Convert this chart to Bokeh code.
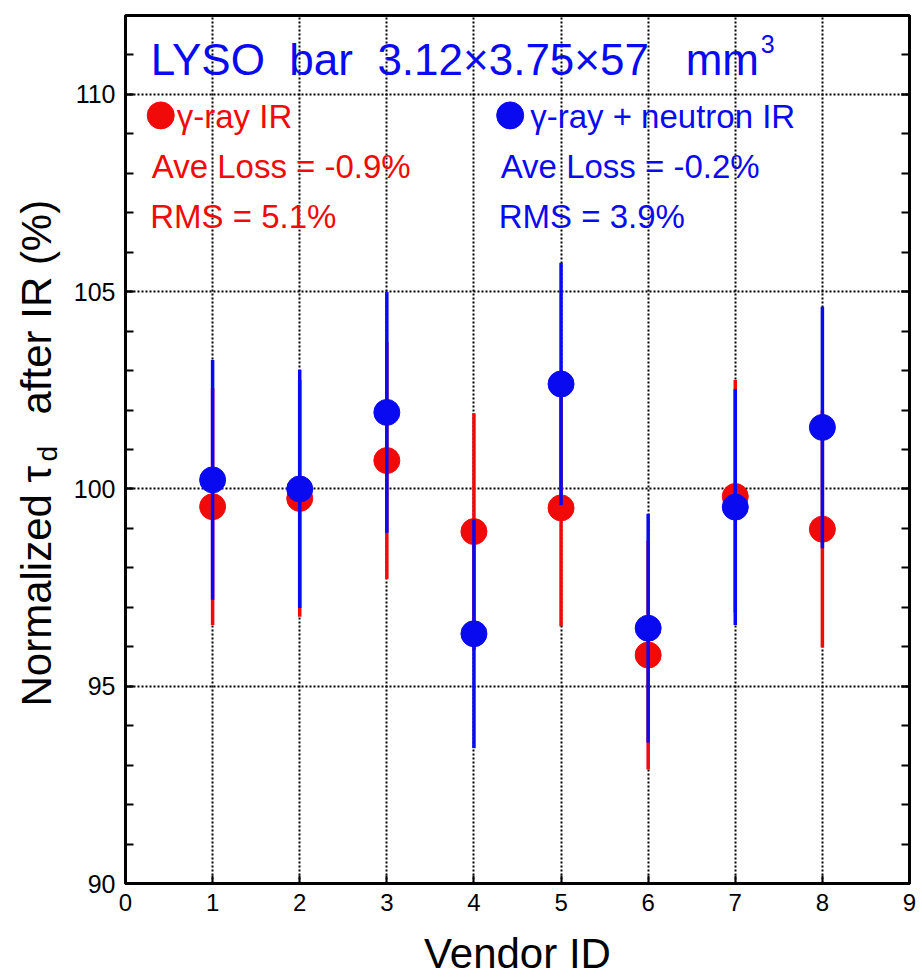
import numpy as np
from bokeh.plotting import figure
from bokeh.layouts import row
from bokeh.models import Range1d, FixedTicker, Label, LinearAxis
from bokeh.core.properties import value
from bokeh.embed import file_html
from bokeh.resources import INLINE

# ---------------- data ----------------
vendor_id = [1, 2, 3, 4, 5, 6, 7, 8]
gamma_val = [99.55, 99.76, 100.72, 98.92, 99.52, 95.79, 99.81, 98.98]
gamma_err = [3.00, 3.00, 3.00, 3.00, 3.00, 2.90, 2.95, 3.00]
gn_val = [100.23, 100.00, 101.94, 96.33, 102.66, 96.47, 99.54, 101.56]
gn_err = [3.04, 3.02, 3.05, 2.90, 3.07, 2.90, 2.99, 3.06]

x_ticks = [0, 1, 2, 3, 4, 5, 6, 7, 8, 9]
y_major_ticks = [90, 95, 100, 105, 110]
y_minor_ticks = list(range(90, 113))

title_text = "LYSO\u00a0\u00a0bar\u00a0\u00a03.12\u00d73.75\u00d757\u00a0\u00a0\u00a0mm"
title_sup = "3"
gamma_texts = ["\u03b3-ray IR", "Ave Loss = -0.9%", "RMS = 5.1%"]
gn_texts = ["\u03b3-ray + neutron IR", "Ave Loss = -0.2%", "RMS = 3.9%"]
ylabel_parts = ["Normalized \u03c4", "d", "after IR (%)"]
xlabel = "Vendor ID"

RED = "#f00a0a"
BLUE = "#0a0af0"
FONT = "Liberation Sans"

LAB_W = 70          # width of the strip that holds the rotated y-axis title
W, H = 922, 980
FRAME_TOP, FRAME_BOTTOM = 15, 883

# ---------------- layout helpers (pixel -> data for annotations) ----------------
X_LEFT, X_SCALE = 124.7, 87.25
Y_SCALE = 39.45
BASE_FIX = 0.34     # baseline correction (fraction of font size)


def dx(px):
    return (px - X_LEFT) / X_SCALE


def dy(py, fs=0):
    return 90 + (FRAME_BOTTOM - (py - BASE_FIX * fs)) / Y_SCALE


p = figure(width=W - LAB_W, height=H, x_range=Range1d(0, 9), y_range=Range1d(90, 112),
           output_backend="svg", toolbar_location=None,
           min_border_left=124 - LAB_W, min_border_right=13, min_border_top=FRAME_TOP,
           min_border_bottom=H - FRAME_BOTTOM)
p.background_fill_color = "white"
p.border_fill_color = "white"
p.outline_line_color = "black"
p.outline_line_width = 3
p.outline_line_alpha = 1

# x axis
xa = p.xaxis[0]
xa.ticker = FixedTicker(ticks=x_ticks)
xa.major_tick_in = 8
xa.major_tick_out = 0
xa.minor_tick_in = 0
xa.minor_tick_out = 0
xa.major_tick_line_width = 2
xa.major_tick_line_color = "black"
xa.axis_line_width = 3
xa.axis_line_color = "black"
xa.major_label_text_font = FONT
xa.major_label_text_font_size = "24px"
xa.major_label_text_color = "black"
xa.major_label_standoff = 10
xa.axis_label = xlabel
xa.axis_label_text_font = FONT
xa.axis_label_text_font_size = "42px"
xa.axis_label_text_font_style = "normal"
xa.axis_label_text_color = "black"
xa.axis_label_standoff = 16

# y axis
ya = p.yaxis[0]
ya.ticker = FixedTicker(ticks=y_major_ticks, minor_ticks=y_minor_ticks)
ya.major_tick_in = 8
ya.major_tick_out = 0
ya.minor_tick_in = 8
ya.minor_tick_out = 0
ya.major_tick_line_width = 2
ya.minor_tick_line_width = 2
ya.major_tick_line_color = "black"
ya.minor_tick_line_color = "black"
ya.axis_line_width = 3
ya.axis_line_color = "black"
ya.major_label_text_font = FONT
ya.major_label_text_font_size = "25px"
ya.major_label_text_color = "black"
ya.major_label_standoff = 10

# right axis (ticks only)
ra = LinearAxis(ticker=FixedTicker(ticks=y_major_ticks, minor_ticks=y_minor_ticks))
ra.major_tick_in = 8
ra.major_tick_out = 0
ra.minor_tick_in = 8
ra.minor_tick_out = 0
ra.major_tick_line_width = 2
ra.minor_tick_line_width = 2
ra.axis_line_width = 3
ra.major_label_overrides = {t: "" for t in y_major_ticks}
ra.major_label_standoff = 0
p.add_layout(ra, "right")

# grids
for g in (p.xgrid[0], p.ygrid[0]):
    g.grid_line_color = "black"
    g.grid_line_dash = "2 2"
    g.grid_line_width = 2
    g.grid_line_alpha = 1
p.ygrid[0].ticker = FixedTicker(ticks=y_major_ticks)

# ---------------- data marks ----------------
g_lo = np.array(gamma_val) - np.array(gamma_err)
g_hi = np.array(gamma_val) + np.array(gamma_err)
n_lo = np.array(gn_val) - np.array(gn_err)
n_hi = np.array(gn_val) + np.array(gn_err)

p.segment(x0=vendor_id, y0=g_lo, x1=vendor_id, y1=g_hi, line_color=RED, line_width=3.5)
p.scatter(x=vendor_id, y=gamma_val, size=26, fill_color=RED, line_color=RED, marker="circle")
p.segment(x0=vendor_id, y0=n_lo, x1=vendor_id, y1=n_hi, line_color=BLUE, line_width=3.5)
p.scatter(x=vendor_id, y=gn_val, size=26, fill_color=BLUE, line_color=BLUE, marker="circle")

# ---------------- annotations ----------------
p.add_layout(Label(x=dx(150), y=dy(74, 44), text=title_text, text_font=FONT,
                   text_font_size="44px", text_color=BLUE, text_baseline="alphabetic"))
p.add_layout(Label(x=dx(761), y=dy(52, 25), text=title_sup, text_font=FONT,
                   text_font_size="25px", text_color=BLUE, text_baseline="alphabetic"))

# legend-like markers
p.scatter(x=[dx(160)], y=[dy(115)], size=27, fill_color=RED, line_color=RED, marker="circle")
p.scatter(x=[dx(510)], y=[dy(115)], size=27, fill_color=BLUE, line_color=BLUE, marker="circle")

g_pos = [(176, 127), (151, 177), (149.5, 227)]
n_pos = [(530, 127), (500.5, 177), (498.5, 227)]
for t, (px, py) in zip(gamma_texts, g_pos):
    p.add_layout(Label(x=dx(px), y=dy(py, 33), text=t, text_font=FONT, text_font_size="33px",
                       text_color=RED, text_baseline="alphabetic"))
for t, (px, py) in zip(gn_texts, n_pos):
    p.add_layout(Label(x=dx(px), y=dy(py, 33), text=t, text_font=FONT, text_font_size="33px",
                       text_color=BLUE, text_baseline="alphabetic"))

# ---------------- rotated y-axis title (with subscript) in its own strip ----------------
# the strip's frame is aligned with the main frame (top 15 px, bottom 883 px),
# so its y range is expressed directly in page pixels
lab = figure(width=LAB_W, height=H, x_range=Range1d(0, LAB_W),
             y_range=Range1d(FRAME_BOTTOM, FRAME_TOP),
             x_axis_type=None, y_axis_type=None, output_backend="svg",
             toolbar_location=None, min_border=0,
             min_border_top=FRAME_TOP, min_border_bottom=H - FRAME_BOTTOM)
lab.outline_line_color = None
lab.grid.visible = False
lab.background_fill_color = "white"
lab.border_fill_color = "white"

ylab_x = [50, 57, 50]
ylab_y = [706, 461, 414]
ylab_fs = [42, 28, 42]
for t, sx, sy, fs in zip(ylabel_parts, ylab_x, ylab_y, ylab_fs):
    lab.text(x=[sx - BASE_FIX * fs], y=[sy], text=[t], angle=np.pi / 2,
             text_font=value(FONT), text_font_size=value(f"{fs}px"),
             text_color="black", text_baseline="alphabetic", text_align="left")

layout = row(lab, p, spacing=0)
open("out.html", "w").write(file_html(layout, INLINE))
